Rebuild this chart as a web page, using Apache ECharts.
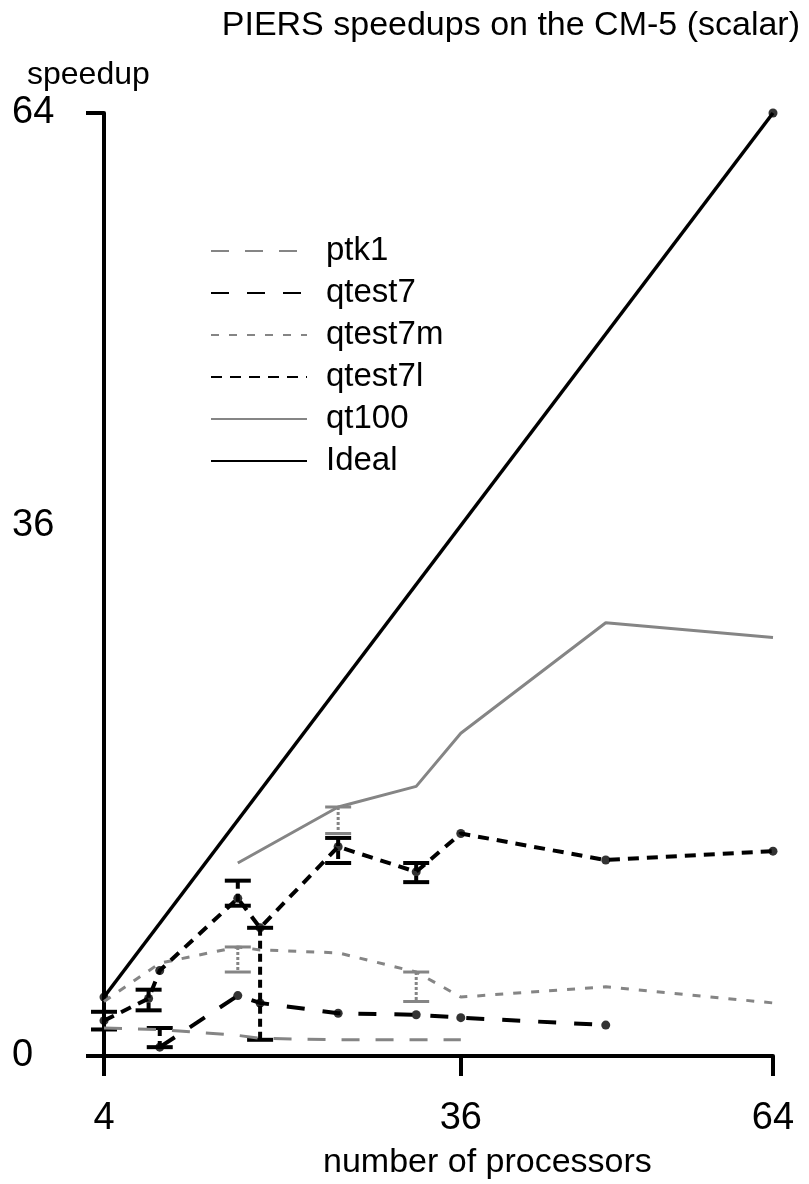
<!DOCTYPE html>
<html>
<head>
  <meta charset="UTF-8">
  <title>PIERS speedups</title>
  <script src="https://cdn.jsdelivr.net/npm/echarts@6/dist/echarts.min.js"></script>
  <style>
    html, body { margin: 0; padding: 0; background: #fff; }
    #chart { width: 809px; height: 1184px; }
  </style>
</head>
<body>
  <div id="chart"></div>
  <script>
    // data (x = number of processors, y = speedup)
    const ptk1X = [4, 9, 16, 18, 25, 32, 36];
    const ptk1Y = [1.9, 1.8, 1.4, 1.2, 1.1, 1.1, 1.1];

    const qtest7X = [9, 16, 18, 25, 32, 36, 49];
    const qtest7Y = [0.6, 4.1, 3.6, 2.9, 2.8, 2.6, 2.1];

    const qtest7mX = [4, 9, 16, 18, 25, 32, 36, 49, 64];
    const qtest7mY = [3.7, 6.3, 7.4, 7.2, 7.0, 5.7, 4.0, 4.7, 3.6];

    const qtest7lX = [4, 8, 9, 16, 18, 25, 32, 36, 49, 64];
    const qtest7lY = [2.4, 3.9, 5.8, 10.7, 8.7, 14.2, 12.5, 15.1, 13.3, 13.9];

    const qt100X = [16, 25, 32, 36, 49, 64];
    const qt100Y = [13.1, 16.9, 18.3, 21.9, 29.4, 28.4];

    const idealX = [4, 64];
    const idealY = [4, 64];

    // error bars (x, low, high)
    const blackErrX  = [4, 8, 9, 16, 18, 25, 32];
    const blackErrLo = [1.8, 3.1, 0.6, 10.2, 1.1, 13.1, 11.8];
    const blackErrHi = [3.0, 4.5, 1.9, 11.9, 8.7, 14.8, 13.1];

    const grayErrX  = [16, 25, 32];
    const grayErrLo = [5.7, 15.1, 3.7];
    const grayErrHi = [7.4, 16.9, 5.7];

    const xTicks = [4, 36, 64];
    const yTicks = [0, 36, 64];

    const font = "'Liberation Sans', Arial, sans-serif";
    const gray = '#858585';

    function pairs(xs, ys) {
      return xs.map((x, i) => [x, ys[i]]);
    }

    function triples(xs, lo, hi) {
      return xs.map((x, i) => [x, lo[i], hi[i]]);
    }

    // vertical bar with short solid caps at both ends
    function errorBar(color, width, dash) {
      return function (params, api) {
        var x = api.value(0);
        var top = api.coord([x, api.value(2)]);
        var bot = api.coord([x, api.value(1)]);
        var cap = 13;
        var capStyle = { stroke: color, lineWidth: width };
        return {
          type: 'group',
          children: [
            { type: 'line', shape: { x1: top[0], y1: top[1], x2: bot[0], y2: bot[1] },
              style: { stroke: color, lineWidth: width, lineDash: dash } },
            { type: 'line', shape: { x1: top[0] - cap, y1: top[1], x2: top[0] + cap, y2: top[1] }, style: capStyle },
            { type: 'line', shape: { x1: bot[0] - cap, y1: bot[1], x2: bot[0] + cap, y2: bot[1] }, style: capStyle }
          ]
        };
      };
    }

    var chart = echarts.init(document.getElementById('chart'));

    var textBase = { fontFamily: font, fontWeight: 'normal', color: '#000' };

    var option = {
      backgroundColor: '#fff',
      animation: false,
      title: [
        { text: 'PIERS speedups on the CM-5 (scalar)', right: 4, top: 4,
          textStyle: Object.assign({ fontSize: 34 }, textBase) },
        { text: 'speedup', left: 22, top: 54,
          textStyle: Object.assign({ fontSize: 32 }, textBase) },
        { text: 'number of processors', left: 318, top: 1141,
          textStyle: Object.assign({ fontSize: 34 }, textBase) }
      ],
      legend: {
        orient: 'vertical',
        left: 205,
        top: 229,
        itemWidth: 96,
        itemHeight: 20,
        itemGap: 8,
        itemStyle: { opacity: 0 },
        data: ['ptk1', 'qtest7', 'qtest7m', 'qtest7l', 'qt100', 'Ideal'],
        textStyle: { fontFamily: font, fontSize: 33, lineHeight: 34, color: '#000', padding: [0, 0, 0, 14] }
      },
      grid: { left: 104, right: 36, top: 113, bottom: 128 },
      xAxis: {
        type: 'value',
        min: 4,
        max: 64,
        splitLine: { show: false },
        axisLine: { lineStyle: { color: '#000', width: 4 } },
        axisTick: { customValues: xTicks, length: 20, lineStyle: { color: '#000', width: 4 } },
        axisLabel: { customValues: xTicks, margin: 44, fontFamily: font, fontSize: 38, color: '#000' }
      },
      yAxis: {
        type: 'value',
        min: 0,
        max: 64,
        splitLine: { show: false },
        axisLine: { onZero: false, lineStyle: { color: '#000', width: 4 } },
        axisTick: { customValues: [0, 64], length: 18, lineStyle: { color: '#000', width: 4 } },
        axisLabel: { customValues: yTicks, align: 'left', margin: 92, fontFamily: font, fontSize: 38, color: '#000' }
      },
      series: [
        { name: 'ptk1', type: 'line', symbol: 'none', data: pairs(ptk1X, ptk1Y),
          itemStyle: { color: gray }, lineStyle: { color: gray, width: 3, type: [18, 16] } },
        { name: 'qtest7', type: 'line', symbol: 'none', data: pairs(qtest7X, qtest7Y),
          itemStyle: { color: '#000' }, lineStyle: { color: '#000', width: 4, type: [18, 18] } },
        { name: 'qtest7m', type: 'line', symbol: 'none', data: pairs(qtest7mX, qtest7mY),
          itemStyle: { color: gray }, lineStyle: { color: gray, width: 3, type: [8, 10] } },
        { name: 'qtest7l', type: 'line', symbol: 'none', data: pairs(qtest7lX, qtest7lY),
          itemStyle: { color: '#000' }, lineStyle: { color: '#000', width: 4, type: [11, 8] } },
        { name: 'qt100', type: 'line', symbol: 'none', data: pairs(qt100X, qt100Y),
          itemStyle: { color: gray }, lineStyle: { color: gray, width: 3 } },
        { name: 'Ideal', type: 'line', symbol: 'none', data: pairs(idealX, idealY),
          itemStyle: { color: '#000' }, lineStyle: { color: '#000', width: 3.5 } },
        // error bars
        { type: 'custom', silent: true, encode: { x: 0, y: [1, 2] },
          renderItem: errorBar('#000', 4, [8, 5]), data: triples(blackErrX, blackErrLo, blackErrHi) },
        { type: 'custom', silent: true, encode: { x: 0, y: [1, 2] },
          renderItem: errorBar(gray, 3, [3, 2]), data: triples(grayErrX, grayErrLo, grayErrHi) },
        // black dots at the measured points of the black curves
        { type: 'scatter', symbolSize: 9, itemStyle: { color: '#000' }, silent: true,
          data: pairs(qtest7X, qtest7Y).concat(pairs(qtest7lX, qtest7lY), pairs(idealX, idealY)) }
      ]
    };

    chart.setOption(option);
  </script>
</body>
</html>
